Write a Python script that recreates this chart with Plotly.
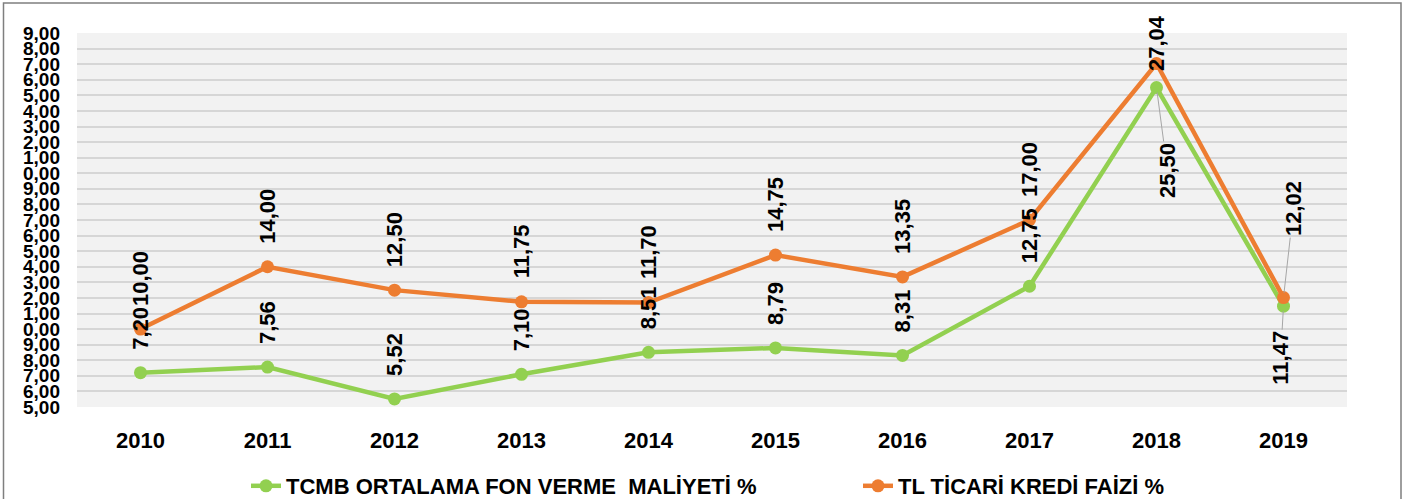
import plotly.graph_objects as go

years = ["2010", "2011", "2012", "2013", "2014", "2015", "2016", "2017", "2018", "2019"]
tcmb = [7.20, 7.56, 5.52, 7.10, 8.51, 8.79, 8.31, 12.75, 25.50, 11.47]
kredi = [10.00, 14.00, 12.50, 11.75, 11.70, 14.75, 13.35, 17.00, 27.04, 12.02]
series_names = ["TCMB ORTALAMA FON VERME  MALİYETİ %", "TL TİCARİ KREDİ FAİZİ %"]
ytick_vals = list(range(5, 30))
ytick_text = [f"{v % 10},00" for v in ytick_vals]

GREEN = "#92D050"
ORANGE = "#ED7D31"
FONT = "Liberation Sans"

def fmt(v):
    return f"{v:.2f}".replace(".", ",")

fig = go.Figure()
for name, vals, col in [(series_names[0], tcmb, GREEN), (series_names[1], kredi, ORANGE)]:
    fig.add_trace(go.Scatter(
        x=years, y=vals, name=name, mode="lines+markers",
        line=dict(color=col, width=4.5),
        marker=dict(color=col, size=13),
        hoverinfo="skip",
    ))

# label placement overrides (style only)
special = {
    ("g", 8): dict(showarrow=True, ax=11, ay=83),
    ("g", 9): dict(showarrow=True, ax=-3, ay=52),
    ("o", 9): dict(showarrow=True, ax=10, ay=-89),
    ("o", 8): dict(yanchor="middle", yshift=20),
}

label_font = dict(family=FONT, size=22, color="#000000", weight="bold")
annotations = []
for key, vals in [("g", tcmb), ("o", kredi)]:
    for i, v in enumerate(vals):
        a = dict(x=i, y=v, xref="x", yref="y", text=fmt(v), textangle=-90,
                 font=label_font, showarrow=False, yanchor="bottom", yshift=21)
        sp = special.get((key, i))
        if sp:
            if sp.get("showarrow"):
                a.update(showarrow=True, ax=sp["ax"], ay=sp["ay"], arrowhead=0,
                         arrowwidth=1, arrowcolor="#A6A6A6", standoff=5,
                         yanchor="auto", yshift=0)
            else:
                a.update(sp)
        annotations.append(a)

L, R, T, B = 77, 58, 33, 92
W, H = 1405, 499
pw, ph = W - L - R, H - T - B

fig.update_layout(
    width=W, height=H,
    margin=dict(l=L, r=R, t=T, b=B, autoexpand=False),
    paper_bgcolor="white",
    plot_bgcolor="#F2F2F2",
    font=dict(family=FONT, color="#000000"),
    annotations=annotations,
    showlegend=True,
    legend=dict(
        orientation="h", x=(246 - L) / pw, xanchor="left",
        y=(H - B - 486) / ph, yanchor="middle",
        font=dict(family=FONT, size=22, color="#000000", weight="bold"),
        entrywidth=567, entrywidthmode="pixels",
        bgcolor="rgba(0,0,0,0)",
    ),
    shapes=[dict(type="rect", xref="paper", yref="paper",
                 x0=(3.5 - L) / pw, x1=(1401 - L) / pw,
                 y0=(H - B - 560) / ph, y1=(H - B - 3) / ph,
                 line=dict(color="#7F7F7F", width=1.5), fillcolor="rgba(0,0,0,0)",
                 layer="below")],
)
fig.update_xaxes(
    type="category", range=[-0.5, 9.5], showgrid=False, zeroline=False, showline=False,
    tickfont=dict(family=FONT, size=22, color="#000000", weight="bold"),
    ticklabelstandoff=18, fixedrange=True,
)
fig.update_yaxes(
    range=[5, 29], tickvals=ytick_vals, ticktext=ytick_text,
    showgrid=True, gridcolor="#D6D6D6", gridwidth=1.5, zeroline=False, showline=False,
    tickfont=dict(family=FONT, size=19, color="#000000", weight="bold"),
    ticklabelstandoff=16, fixedrange=True,
)
fig.write_html("out.html", config={"displayModeBar": False},
               post_script="document.body.style.margin='0';document.body.style.overflow='hidden';")
